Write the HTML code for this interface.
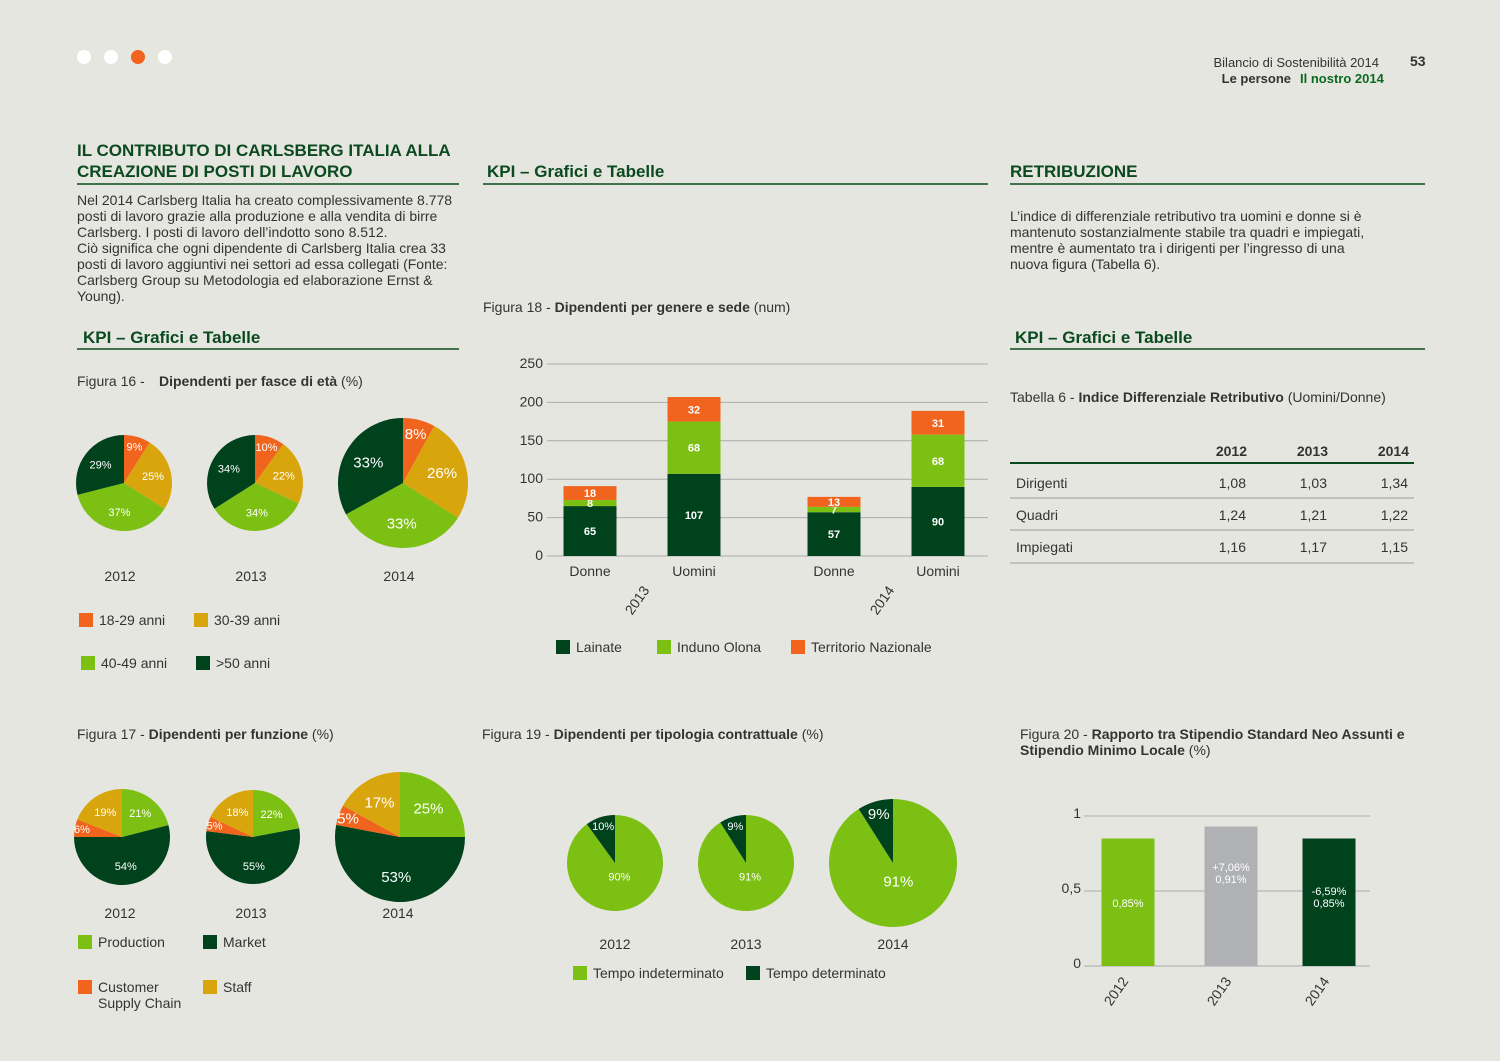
<!DOCTYPE html>
<html><head><meta charset="utf-8"><style>
body{margin:0;background:#e6e6e1;}
svg{display:block;font-family:"Liberation Sans",sans-serif;}
.t{font-size:14px;fill:#333;}
.h{font-size:17px;font-weight:bold;fill:#0b4a1e;}
.b{font-weight:bold;}
</style></head><body>
<svg id="s" width="1500" height="1061" viewBox="0 0 1500 1061">
<rect width="1500" height="1061" fill="#e6e6e1"/>
<g>
<circle cx="84" cy="57" r="7" fill="#fff"/><circle cx="111" cy="57" r="7" fill="#fff"/><circle cx="138" cy="57" r="7" fill="#f0641e"/><circle cx="165" cy="57" r="7" fill="#fff"/></g>
<text x="1379" y="67" text-anchor="end" class="t" font-size="13" style="font-size:13px">Bilancio di Sostenibilità 2014</text>
<text x="1291" y="83" text-anchor="end" class="t b" style="font-size:13px" fill="#222">Le persone</text>
<text x="1300" y="83" class="t b" style="fill:#0b6a1e;font-size:13px">Il nostro 2014</text>
<text x="1410" y="66" class="t b">53</text>

<text x="77" y="156" class="h">IL CONTRIBUTO DI CARLSBERG ITALIA ALLA</text>
<text x="77" y="177" class="h">CREAZIONE DI POSTI DI LAVORO</text>
<line x1="77" y1="184" x2="459" y2="184" stroke="#0b4a1e" stroke-width="1.5"/>
<g class="t">
<text x="77" y="205" class="t">Nel 2014 Carlsberg Italia ha creato complessivamente 8.778</text>
<text x="77" y="221" class="t">posti di lavoro grazie alla produzione e alla vendita di birre</text>
<text x="77" y="237" class="t">Carlsberg. I posti di lavoro dell’indotto sono 8.512.</text>
<text x="77" y="253" class="t">Ciò significa che ogni dipendente di Carlsberg Italia crea 33</text>
<text x="77" y="269" class="t">posti di lavoro aggiuntivi nei settori ad essa collegati (Fonte:</text>
<text x="77" y="285" class="t">Carlsberg Group su Metodologia ed elaborazione Ernst &amp;</text>
<text x="77" y="301" class="t">Young).</text></g>
<text x="83" y="343" class="h">KPI – Grafici e Tabelle</text>
<line x1="77" y1="349" x2="459" y2="349" stroke="#0b4a1e" stroke-width="1.5"/>
<text x="487" y="177" class="h">KPI – Grafici e Tabelle</text>
<line x1="483" y1="184" x2="988" y2="184" stroke="#0b4a1e" stroke-width="1.5"/>
<text x="1010" y="177" class="h">RETRIBUZIONE</text>
<line x1="1010" y1="184" x2="1425" y2="184" stroke="#0b4a1e" stroke-width="1.5"/>
<g>
<text x="1010" y="221" class="t">L’indice di differenziale retributivo tra uomini e donne si è</text>
<text x="1010" y="237" class="t">mantenuto sostanzialmente stabile tra quadri e impiegati,</text>
<text x="1010" y="253" class="t">mentre è aumentato tra i dirigenti per l’ingresso di una</text>
<text x="1010" y="269" class="t">nuova figura (Tabella 6).</text></g>
<text x="1015" y="343" class="h">KPI – Grafici e Tabelle</text>
<line x1="1010" y1="349" x2="1425" y2="349" stroke="#0b4a1e" stroke-width="1.5"/>

<text x="77" y="386" class="t">Figura 16 -</text>
<text x="159" y="386" class="t"><tspan class="b">Dipendenti per fasce di età</tspan> (%)</text>
<text x="483" y="312" class="t">Figura 18 - <tspan class="b">Dipendenti per genere e sede</tspan> (num)</text>
<text x="1010" y="402" class="t">Tabella 6 - <tspan class="b">Indice Differenziale Retributivo</tspan> (Uomini/Donne)</text>
<text x="77" y="739" class="t">Figura 17 - <tspan class="b">Dipendenti per funzione</tspan> (%)</text>
<text x="482" y="739" class="t">Figura 19 -  <tspan class="b">Dipendenti per tipologia contrattuale</tspan> (%)</text>
<text x="1020" y="739" class="t">Figura 20 - <tspan class="b">Rapporto tra Stipendio Standard Neo Assunti e</tspan></text>
<text x="1020" y="755" class="t b">Stipendio Minimo Locale <tspan style="font-weight:normal">(%)</tspan></text>

<g id="legends"></g>
<g id="charts"></g>
<g id="table"></g>
</svg>
<script>
const NS="http://www.w3.org/2000/svg";
const C={dg:"#00421c",lg:"#7cc013",or:"#f0641e",gd:"#d8a50c",gr:"#b0b1b5"};
const root=document.getElementById('charts');
function el(t,a,p){const e=document.createElementNS(NS,t);for(const k in a)e.setAttribute(k,a[k]);(p||root).appendChild(e);return e;}
function txt(x,y,s,a,p){const e=el('text',Object.assign({x:x,y:y},a),p);e.textContent=s;return e;}

// Fig16 data
const ageYears=["2012","2013","2014"];
const ageCats=["18-29 anni","30-39 anni","40-49 anni",">50 anni"];
const ageValues=[[9,25,37,29],[10,22,34,34],[8,26,33,33]];
const ageColors=[C.or,C.gd,C.lg,C.dg];
// Fig17 data
const funcCats=["Production","Market","Customer Supply Chain","Staff"];
const funcValues=[[21,54,6,19],[22,55,5,18],[25,53,5,17]];
const funcColors=[C.lg,C.dg,C.or,C.gd];
// Fig19 data
const contrCats=["Tempo indeterminato","Tempo determinato"];
const contrValues=[[90,10],[91,9],[91,9]];
const contrColors=[C.lg,C.dg];

function pie(cx,cy,r,vals,cols,name,fs,lr){
  const g=el('g',{});
  
  
  const tot=vals.reduce((a,b)=>a+b,0);let a0=0;
  vals.forEach((v,i)=>{
    const a1=a0+v/tot*2*Math.PI;
    const p=(a)=>[cx+r*Math.sin(a),cy-r*Math.cos(a)];
    const [x0,y0]=p(a0),[x1,y1]=p(a1);
    const path=el('path',{d:`M${cx},${cy}L${x0},${y0}A${r},${r} 0 ${a1-a0>Math.PI?1:0} 1 ${x1},${y1}Z`,fill:cols[i]},g);
    
    
    const am=(a0+a1)/2,rr=r*(v<12?lr[0]:lr[1]);
    txt(cx+rr*Math.sin(am),cy-rr*Math.cos(am)+fs/3,v+"%",{fill:"#fff","font-size":fs,"text-anchor":"middle"},g);
    a0=a1;
  });
}
const p16=[[124,483,48],[255,483,48],[403,483,65]];
ageValues.forEach((v,i)=>{const [x,y,r]=p16[i];pie(x,y,r,v,ageColors,'age-pie-'+ageYears[i],i==2?15:11,[0.78,0.62]);txt(x-4,581,ageYears[i],{class:"t","text-anchor":"middle"});});
const p17=[[122,837,48],[253,837,47],[400,837,65]];
funcValues.forEach((v,i)=>{const [x,y,r]=p17[i];pie(x,y,r,v,funcColors,'function-pie-'+ageYears[i],i==2?15:11,[0.85,0.62]);txt(x-2,918,ageYears[i],{class:"t","text-anchor":"middle"});});
const p19=[[615,863,48],[746,863,48],[893,863,64]];
contrValues.forEach((v,i)=>{const [x,y,r]=p19[i];pie(x,y,r,v,contrColors,'contract-pie-'+ageYears[i],i==2?15:11,[0.8,0.3]);txt(x,949,ageYears[i],{class:"t","text-anchor":"middle"});});

// Fig18 data
const f18Cats=["Donne","Uomini","Donne","Uomini"];
const f18Years=["2013","2014"];
const f18Series=["Lainate","Induno Olona","Territorio Nazionale"];
const lainate=[65,107,57,90];
const induno=[8,68,7,68];
const territorio=[18,32,13,31];
const f18Ticks=[0,50,100,150,200,250];
const f18Colors=[C.dg,C.lg,C.or];
(function(){
  const y0=556,k=0.768,xs=[590,694,834,938],w=53;
  const Y=v=>y0-v*k;
  const g=el('g',{});
  f18Ticks.forEach(t=>{el('line',{x1:547,x2:988,y1:Y(t),y2:Y(t),stroke:"#aaa","stroke-width":1},g);txt(543,Y(t)+4,t,{class:"t","text-anchor":"end"},g);});
  const series=[lainate,induno,territorio];
  xs.forEach((x,i)=>{let base=0;series.forEach((s,j)=>{
    const r=el('rect',{x:x-w/2,y:Y(base+s[i]),width:w,height:s[i]*k,fill:f18Colors[j]},g);
    
    
    txt(x,Y(base+s[i]/2)+4,s[i],{fill:"#fff","font-size":11,"font-weight":"bold","text-anchor":"middle"},g);
    base+=s[i];});
    txt(x,576,f18Cats[i],{class:"t","text-anchor":"middle"},g);});
  [[637,f18Years[0]],[882,f18Years[1]]].forEach(([x,s])=>txt(0,0,s,{class:"t",transform:`translate(${x+4},${603}) rotate(-55)`,"text-anchor":"middle"},g));
})();

// Fig20 data
const f20Years=["2012","2013","2014"];
const f20Values=[0.85,0.93,0.85];
const f20Labels=[["0,85%"],["+7,06%","0,91%"],["-6,59%","0,85%"]];
const f20Ticks=[0,0.5,1];
const f20TickLabels=["0","0,5","1"];
(function(){
  const y0=966,k=150,xs=[1128,1231,1329],w=53,cols=[C.lg,C.gr,C.dg];
  const Y=v=>y0-v*k;
  const g=el('g',{});
  f20Ticks.forEach((t,i)=>{el('line',{x1:1084,x2:1370,y1:Y(t),y2:Y(t),stroke:"#aaa"},g);txt(1081,Y(t)+2,f20TickLabels[i],{class:"t","text-anchor":"end"},g);});
  xs.forEach((x,i)=>{
    const r=el('rect',{x:x-w/2,y:Y(f20Values[i]),width:w,height:f20Values[i]*k,fill:cols[i]},g);
    
    
    const ly=[907,871,895][i];
    f20Labels[i].forEach((s,j)=>txt(x,ly+j*12,s,{fill:"#fff","font-size":11,"text-anchor":"middle"},g));
    txt(0,0,f20Years[i],{class:"t",transform:`translate(${x-8},${994}) rotate(-55)`,"text-anchor":"middle"},g);
  });
})();

// legends
const lg=document.getElementById('legends');
function leg(x,y,c,label,lines){const r=el('rect',{x:x,y:y-7,width:14,height:14,fill:c},lg);
  (lines||[label]).forEach((s,j)=>txt(x+20,y+5+j*16,s,{class:"t"},lg));}
leg(79,620,C.or,ageCats[0]);leg(194,620,C.gd,ageCats[1]);leg(81,663,C.lg,ageCats[2]);leg(196,663,C.dg,ageCats[3]);
leg(556,647,C.dg,f18Series[0]);leg(657,647,C.lg,f18Series[1]);leg(791,647,C.or,f18Series[2]);
leg(78,942,C.lg,funcCats[0]);leg(203,942,C.dg,funcCats[1]);leg(78,987,C.or,"",["Customer","Supply Chain"]);leg(203,987,C.gd,funcCats[3]);
leg(573,973,C.lg,contrCats[0]);leg(746,973,C.dg,contrCats[1]);

// table
const tRows=["Dirigenti","Quadri","Impiegati"];
const tYears=["2012","2013","2014"];
const tVals=[["1,08","1,03","1,34"],["1,24","1,21","1,22"],["1,16","1,17","1,15"]];
const tb=document.getElementById('table');
const cx=[1247,1328,1409];
tYears.forEach((y,i)=>txt(cx[i],456,y,{class:"t b","text-anchor":"end","font-size":14,fill:"#0b4a1e"},tb));
el('line',{x1:1010,x2:1414,y1:463,y2:463,stroke:"#0b4a1e","stroke-width":2},tb);
tRows.forEach((r,i)=>{const y=488+i*32;txt(1016,y,r,{class:"t"},tb);tVals[i].forEach((v,j)=>txt(cx[j]-1,y,v,{class:"t","text-anchor":"end"},tb));
  el('line',{x1:1010,x2:1414,y1:y+10+(i==2?1:0),y2:y+10+(i==2?1:0),stroke:"#999"},tb);});
</script>
</body></html>
